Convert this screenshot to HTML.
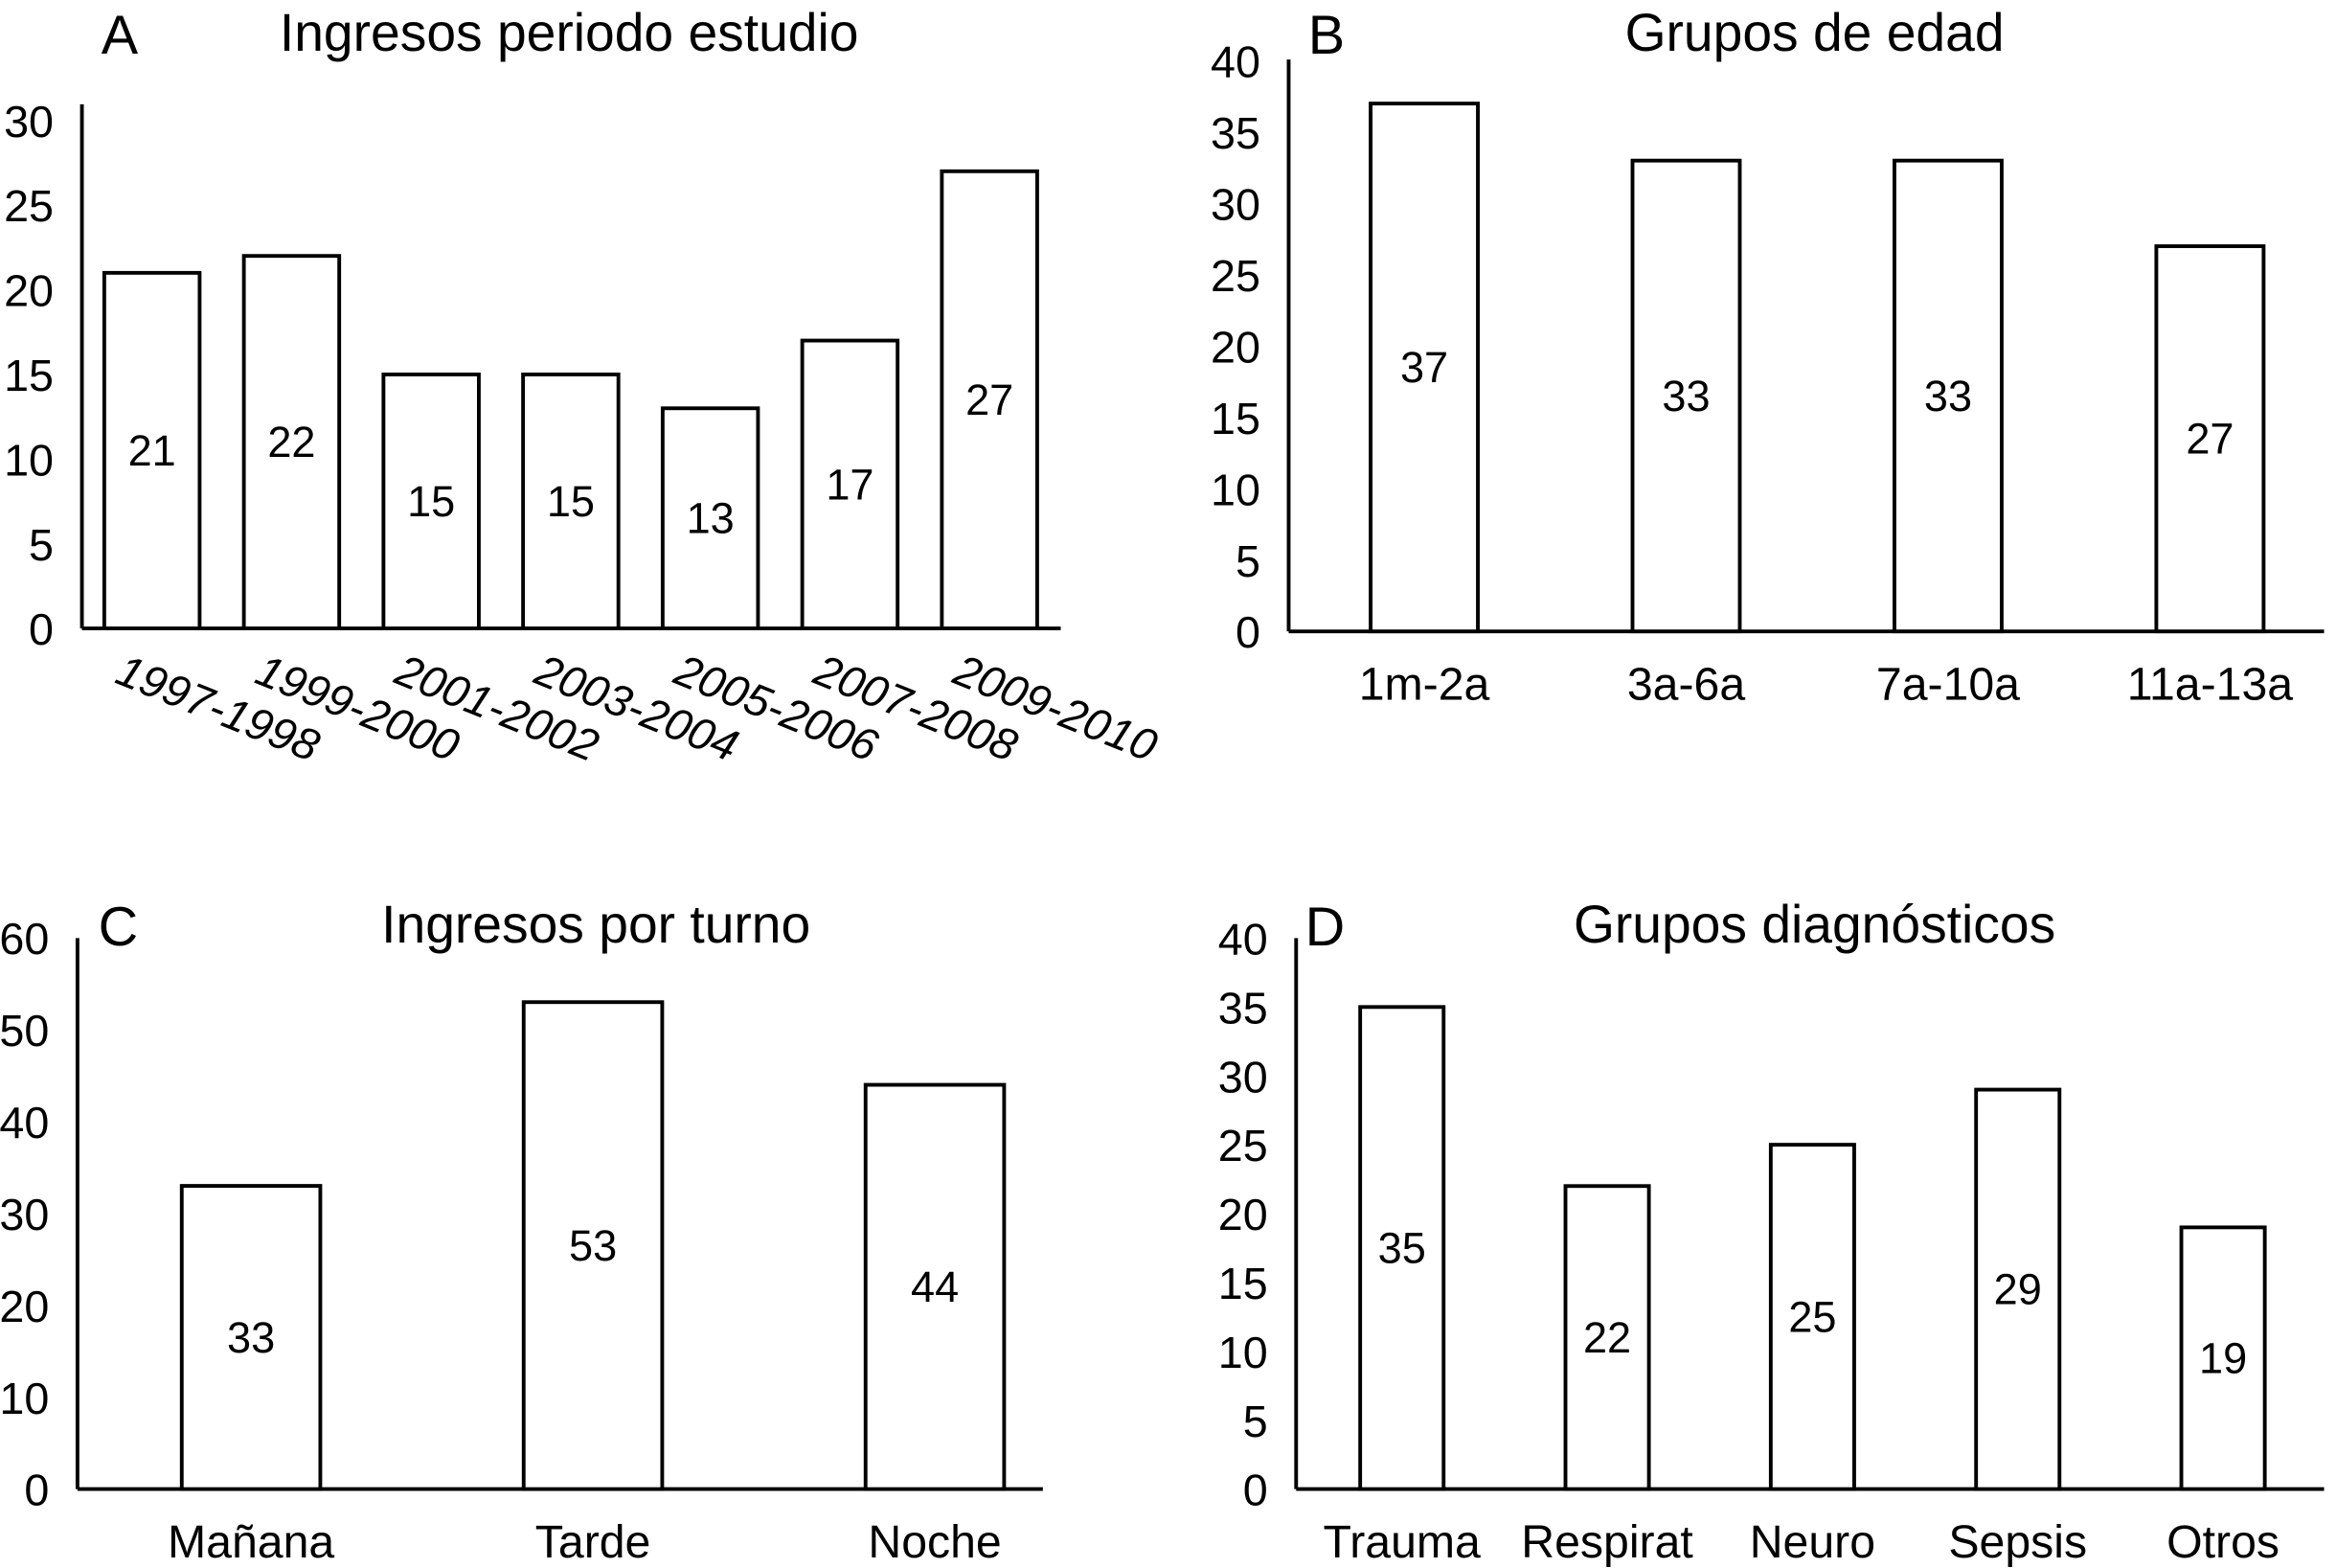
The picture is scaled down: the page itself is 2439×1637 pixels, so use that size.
<!DOCTYPE html>
<html><head><meta charset="utf-8"><style>
html,body{margin:0;padding:0;background:#fff}
svg{display:block;font-family:"Liberation Sans",Arial,sans-serif}
</style></head><body>
<svg id="chart" width="2439" height="1637" viewBox="0 0 1568 1053" preserveAspectRatio="none" xmlns="http://www.w3.org/2000/svg">
<g fill="#000">
<text x="68" y="36" font-size="37">A</text>
<text x="382" y="34" font-size="35.5" text-anchor="middle">Ingresos periodo estudio</text>
<text x="878" y="36" font-size="37">B</text>
<text x="1218" y="34" font-size="35.5" text-anchor="middle">Grupos de edad</text>
<text x="66" y="635" font-size="37">C</text>
<text x="400" y="633" font-size="35.5" text-anchor="middle">Ingresos por turno</text>
<text x="876" y="635" font-size="37">D</text>
<text x="1218" y="633" font-size="35.5" text-anchor="middle">Grupos diagnósticos</text>
</g>
</svg>
<script>
const catA = ["1997-1998","1999-2000","2001-2002","2003-2004","2005-2006","2007-2008","2009-2010"];
const valA = [21,22,15,15,13,17,27];
const ticksA = [0,5,10,15,20,25,30];
const catB = ["1m-2a","3a-6a","7a-10a","11a-13a"];
const valB = [37,33,33,27];
const ticksB = [0,5,10,15,20,25,30,35,40];
const catC = ["Mañana","Tarde","Noche"];
const valC = [33,53,44];
const ticksC = [0,10,20,30,40,50,60];
const catD = ["Trauma","Respirat","Neuro","Sepsis","Otros"];
const valD = [35,22,25,29,19];
const ticksD = [0,5,10,15,20,25,30,35,40];

const svg = document.getElementById('chart');
const NS = "http://www.w3.org/2000/svg";
function mk(tag, attrs){const e=document.createElementNS(NS,tag);for(const k in attrs)e.setAttribute(k,attrs[k]);svg.appendChild(e);return e;}

function panel(id, cats, vals, ticks, cfg){
  const y = v => cfg.base - v*cfg.scale;
  const x = i => cfg.x0 + i*cfg.step;
  const ax = mk('line',{x1:cfg.axX,y1:cfg.axTop,x2:cfg.axX,y2:cfg.base,stroke:'#000','stroke-width':2.5});
  
  
  const xl = mk('line',{x1:cfg.axX,y1:cfg.base,x2:cfg.axEnd,y2:cfg.base,stroke:'#000','stroke-width':2.5});
  
  
  ticks.forEach(t=>{
    const tx = mk('text',{x:cfg.axX-19,y:y(t)+11,'font-size':30,'text-anchor':'end'});
    tx.textContent=t;
    
    
  });
  cats.forEach((c,i)=>{
    const bx=x(i), top=y(vals[i]);
    const r = mk('rect',{x:bx,y:top,width:cfg.w,height:cfg.base-top,fill:'#fff',stroke:'#000','stroke-width':2.5});
    
    
    const v = mk('text',{x:bx+cfg.w/2,y:(top+cfg.base)/2+10,'font-size':29,'text-anchor':'middle'});
    v.textContent=vals[i];
    
    
    let l;
    if(cfg.rot){
      const lx=bx+6, ly=cfg.base+36;
      l = mk('text',{x:lx,y:ly,'font-size':30,'font-style':'italic',transform:'rotate(22 '+lx+' '+ly+')'});
    } else {
      l = mk('text',{x:bx+cfg.w/2,y:cfg.base+46,'font-size':31,'text-anchor':'middle'});
    }
    l.textContent=c;
    
    
  });
}
panel('panel-a', catA, valA, ticksA, {base:422,scale:11.37,x0:70,step:93.7,w:64,axX:55,axTop:70,axEnd:712,rot:true});
panel('panel-b', catB, valB, ticksB, {base:424,scale:9.58,x0:920,step:175.8,w:72,axX:865,axTop:40,axEnd:1560});
panel('panel-c', catC, valC, ticksC, {base:1000,scale:6.17,x0:122,step:229.5,w:93,axX:52,axTop:630,axEnd:700});
panel('panel-d', catD, valD, ticksD, {base:1000,scale:9.25,x0:913,step:137.8,w:56,axX:870,axTop:630,axEnd:1560});
</script>
</body></html>
